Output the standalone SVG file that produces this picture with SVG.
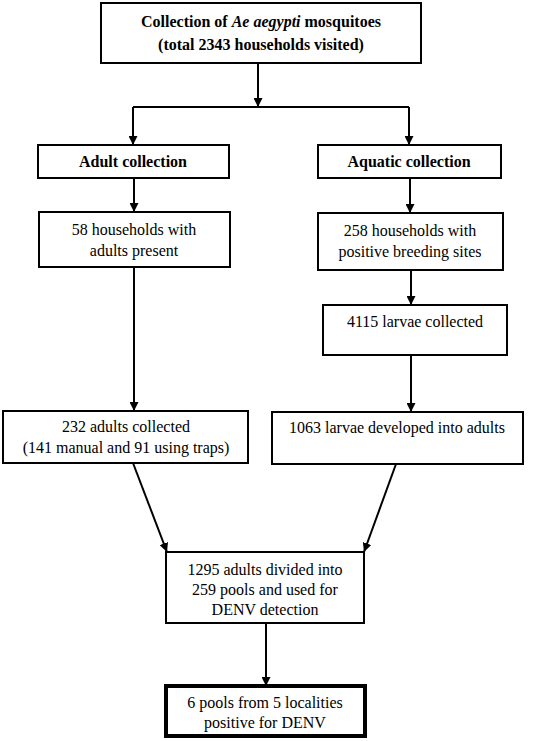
<svg xmlns="http://www.w3.org/2000/svg" width="536" height="741" viewBox="0 0 536 741">
<style>
.box{fill:#fff;stroke:#000;stroke-width:2}
.thick{fill:#fff;stroke:#000;stroke-width:4}
text{font-family:'Liberation Serif','Times New Roman',serif;font-size:16px;fill:#000;text-anchor:middle}
.b{font-weight:bold}
.c{stroke:#000;stroke-width:2;fill:none}
</style>
<defs>
<marker id="ah" viewBox="0 0 10 10" refX="10" refY="5" markerWidth="4.5" markerHeight="4.5" orient="auto" markerUnits="strokeWidth">
<path d="M0,0 L10,5 L0,10 z" fill="#000"/>
</marker>
</defs>
<g id="connectors">
<line class="c" x1="258" y1="63" x2="258" y2="107" marker-end="url(#ah)"/>
<line class="c" x1="133" y1="107" x2="409" y2="107"/>
<line class="c" x1="133" y1="107" x2="133" y2="145" marker-end="url(#ah)"/>
<line class="c" x1="409" y1="107" x2="409" y2="145" marker-end="url(#ah)"/>
<line class="c" x1="134" y1="178" x2="134" y2="212" marker-end="url(#ah)"/>
<line class="c" x1="410" y1="178" x2="410" y2="213" marker-end="url(#ah)"/>
<line class="c" x1="134" y1="267" x2="134" y2="411" marker-end="url(#ah)"/>
<line class="c" x1="411" y1="270" x2="411" y2="305" marker-end="url(#ah)"/>
<line class="c" x1="411" y1="355" x2="411" y2="412" marker-end="url(#ah)"/>
<line class="c" x1="133" y1="463" x2="167" y2="552" marker-end="url(#ah)"/>
<line class="c" x1="396" y1="464" x2="364" y2="552" marker-end="url(#ah)"/>
<line class="c" x1="266" y1="623" x2="266" y2="686" marker-end="url(#ah)"/>
</g>
<g id="n-top">
<rect class="box" x="101" y="3" width="320" height="60"/>
<text class="b" x="261" y="27">Collection of <tspan font-style="italic">Ae aegypti</tspan> mosquitoes</text>
<text class="b" x="261" y="50">(total 2343 households visited)</text>
</g>
<g id="n-adult">
<rect class="box" x="38" y="145" width="191" height="33"/>
<text class="b" x="133" y="167">Adult collection</text>
</g>
<g id="n-aquatic">
<rect class="box" x="318" y="145" width="183" height="33"/>
<text class="b" x="409" y="167">Aquatic collection</text>
</g>
<g id="n-58">
<rect class="box" x="39" y="212" width="191" height="55"/>
<text x="134" y="235">58 households with</text>
<text x="134" y="256">adults present</text>
</g>
<g id="n-258">
<rect class="box" x="318" y="213" width="185" height="57"/>
<text x="410" y="236">258 households with</text>
<text x="410" y="257">positive breeding sites</text>
</g>
<g id="n-4115">
<rect class="box" x="323" y="305" width="184" height="50"/>
<text x="415" y="327">4115 larvae collected</text>
</g>
<g id="n-232">
<rect class="box" x="3" y="411" width="245" height="52"/>
<text x="126" y="432">232 adults collected</text>
<text x="126" y="453">(141 manual and 91 using traps)</text>
</g>
<g id="n-1063">
<rect class="box" x="272" y="412" width="251" height="52"/>
<text x="397" y="433">1063 larvae developed into adults</text>
</g>
<g id="n-1295">
<rect class="box" x="166" y="552" width="198" height="71"/>
<text x="265" y="575">1295 adults divided into</text>
<text x="265" y="595">259 pools and used for</text>
<text x="265" y="615">DENV detection</text>
</g>
<g id="n-6">
<rect class="thick" x="166" y="686" width="199" height="50"/>
<text x="265" y="708">6 pools from 5 localities</text>
<text x="265" y="728">positive for DENV</text>
</g>
</svg>
